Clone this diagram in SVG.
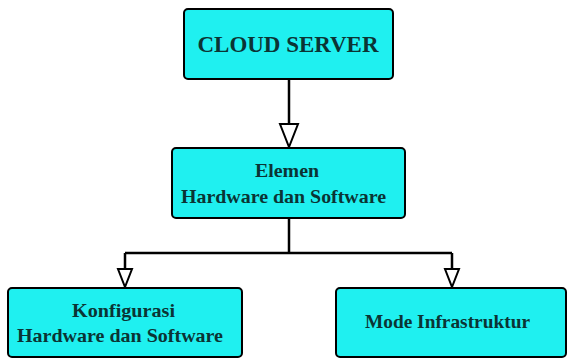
<svg xmlns="http://www.w3.org/2000/svg" width="567" height="359" viewBox="0 0 567 359">
  <style>
    .box { fill: #1ff0f0; stroke: #000; stroke-width: 2; }
    .label { font-family: "Liberation Serif", "Times New Roman", serif; font-weight: bold; fill: #0b3434; text-anchor: middle; font-size: 19.5px; }
    .wire { fill: none; stroke: #000; stroke-width: 2.5; }
    .head { fill: #fff; stroke: #000; stroke-width: 2; }
  </style>
  <rect width="567" height="359" fill="#fff"/>

  <g id="connectors">
    <path class="wire" d="M289,79 V123"/>
    <path class="head" d="M280,124 L298,124 L289,147 Z"/>
    <path class="wire" d="M289,218 V253 M125,253 H452 M125,253 V269 M452,253 V269"/>
    <path class="head" d="M118,269 L132,269 L125,287 Z"/>
    <path class="head" d="M445,269 L459,269 L452,287 Z"/>
  </g>

  <g id="cloud-server">
    <rect class="box" x="184" y="9" width="209" height="70" rx="4"/>
    <text class="label" x="288" y="52" style="font-size:23px" textLength="181" lengthAdjust="spacingAndGlyphs">CLOUD SERVER</text>
  </g>

  <g id="elemen">
    <rect class="box" x="172" y="148" width="233" height="70" rx="4"/>
    <text class="label" x="287" y="177" textLength="64" lengthAdjust="spacingAndGlyphs">Elemen</text>
    <text class="label" x="283.5" y="203" textLength="205" lengthAdjust="spacingAndGlyphs">Hardware dan Software</text>
  </g>

  <g id="konfigurasi">
    <rect class="box" x="8" y="288" width="234" height="69" rx="4"/>
    <text class="label" x="123.5" y="317" textLength="103" lengthAdjust="spacingAndGlyphs">Konfigurasi</text>
    <text class="label" x="120" y="342" textLength="206" lengthAdjust="spacingAndGlyphs">Hardware dan Software</text>
  </g>

  <g id="mode-infrastruktur">
    <rect class="box" x="336" y="288" width="230" height="69" rx="4"/>
    <text class="label" x="447.5" y="328" textLength="165" lengthAdjust="spacingAndGlyphs">Mode Infrastruktur</text>
  </g>
</svg>
